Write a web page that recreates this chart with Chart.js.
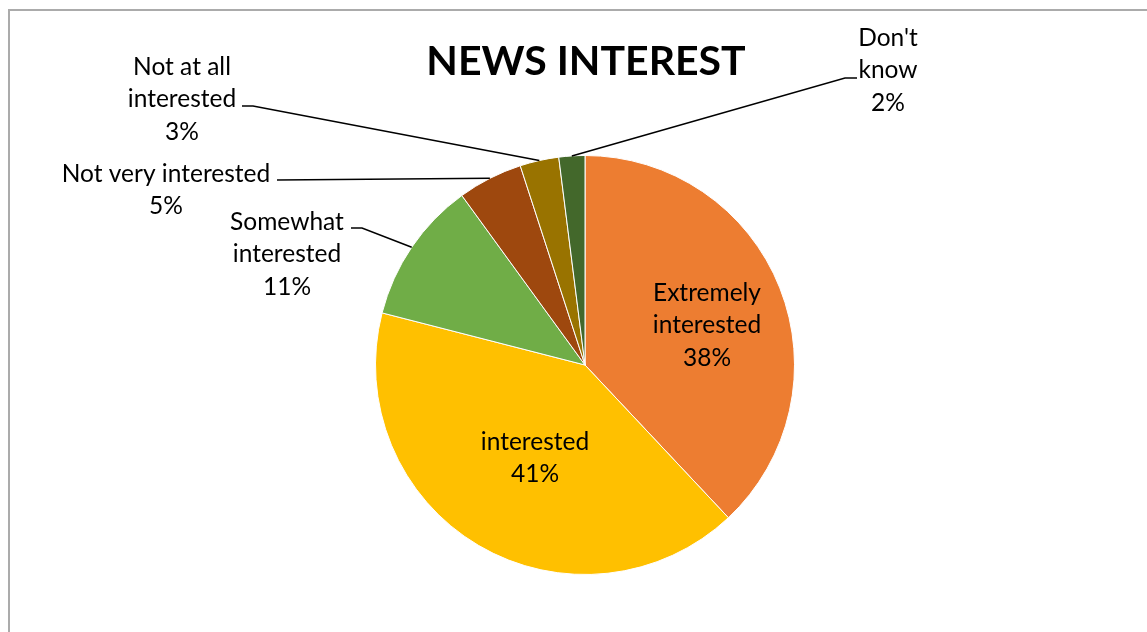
<!DOCTYPE html>
<html><head><meta charset="utf-8">
<script src="https://cdn.jsdelivr.net/npm/chart.js@4/dist/chart.umd.min.js"></script>
<style>html,body{margin:0;padding:0;background:#fff;overflow:hidden}#wrap{width:1147px;height:632px;position:relative}</style>
</head><body><div id="wrap"><canvas id="c" width="1147" height="632"></canvas></div>
<script>
const title = "NEWS INTEREST";
const categories = ["Extremely interested", "interested", "Somewhat interested", "Not very interested", "Not at all interested", "Don't know"];
const labelLines = [["Extremely","interested"],["interested"],["Somewhat","interested"],["Not very interested"],["Not at all","interested"],["Don't","know"]];
const values = [38, 41, 11, 5, 3, 2];
const colors = ["#ED7D31", "#FFC000", "#70AD47", "#9E480E", "#997300", "#43682B"];

// layout for labels (text centre x, first line middle y), leader elbows
const labelLayout = [
  {x: 707, y: 293, leader: null},
  {x: 535, y: 442, leader: null},
  {x: 287, y: 222, leader: [[362,228],[351,228]]},
  {x: 166, y: 174, leader: [[277,180]]},
  {x: 182, y: 67, leader: [[253,106],[242,106]]},
  {x: 888, y: 38, leader: [[845,78],[857,78]]}
];
const FONT = "Lato, 'Open Sans', sans-serif";
const LINE_H = 32.5;

const decor = {
  id: 'decor',
  beforeDraw(chart) {
    const ctx = chart.ctx;
    ctx.save();
    ctx.fillStyle = '#fff';
    ctx.fillRect(0, 0, chart.width, chart.height);
    ctx.strokeStyle = '#ababab';
    ctx.lineWidth = 2;
    ctx.strokeRect(9, 10, 1300, 800);
    ctx.restore();
  },
  afterDraw(chart) {
    const ctx = chart.ctx;
    const meta = chart.getDatasetMeta(0);
    const total = values.reduce((a, b) => a + b, 0);
    ctx.save();
    ctx.fillStyle = '#000';
    ctx.textAlign = 'center';
    ctx.textBaseline = 'middle';
    ctx.font = "bold 41px " + FONT;
    ctx.fillText(title, 586, 62);
    ctx.font = "24.5px " + FONT;
    meta.data.forEach((arc, i) => {
      const L = labelLayout[i];
      const lines = labelLines[i].concat([Math.round(values[i] / total * 100) + "%"]);
      lines.forEach((t, k) => ctx.fillText(t, L.x, L.y + k * LINE_H));
      if (L.leader) {
        const p = arc.getProps(['x','y','startAngle','endAngle','outerRadius'], true);
        const mid = (p.startAngle + p.endAngle) / 2;
        const sx = p.x + Math.cos(mid) * p.outerRadius;
        const sy = p.y + Math.sin(mid) * p.outerRadius;
        ctx.beginPath();
        ctx.strokeStyle = '#000';
        ctx.lineWidth = 1.5;
        ctx.moveTo(sx, sy);
        L.leader.forEach(pt => ctx.lineTo(pt[0], pt[1]));
        ctx.stroke();
      }
    });
    ctx.restore();
  }
};

new Chart(document.getElementById('c'), {
  type: 'pie',
  data: {
    labels: categories,
    datasets: [{ data: values, backgroundColor: colors, borderColor: '#ffffff', borderWidth: 1 }]
  },
  options: {
    responsive: false,
    animation: false,
    layout: { padding: { top: 155, bottom: 57, left: 23, right: 0 } },
    plugins: { legend: { display: false }, title: { display: false }, tooltip: { enabled: false } }
  },
  plugins: [decor]
});
</script></body></html>
